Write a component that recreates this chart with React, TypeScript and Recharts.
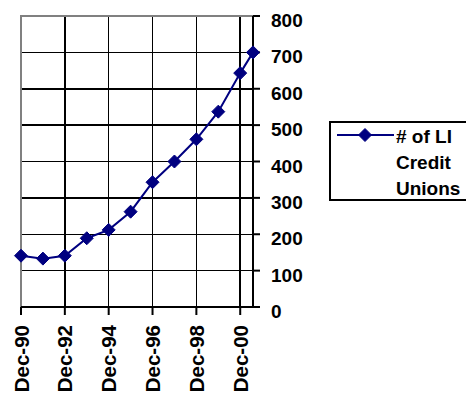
import * as React from "react";
import {
  CartesianGrid,
  Legend,
  Line,
  LineChart,
  XAxis,
  YAxis,
} from "recharts";

// month of each observation (yyyy-mm) and the count of LI credit unions
const dates = [
  "1990-12", "1991-12", "1992-12", "1993-12", "1994-12", "1995-12",
  "1996-12", "1997-12", "1998-12", "1999-12", "2000-12", "2001-07",
];
const unions = [141, 133, 141, 189, 212, 262, 343, 400, 461, 537, 643, 700];

const tickDates = ["1990-12", "1992-12", "1994-12", "1996-12", "1998-12", "2000-12"];
const tickLabels = ["Dec-90", "Dec-92", "Dec-94", "Dec-96", "Dec-98", "Dec-00"];
const yTicks = [0, 100, 200, 300, 400, 500, 600, 700, 800];
const seriesName = "# of LI Credit Unions";

const toMonths = (d: string) => {
  const [y, m] = d.split("-").map(Number);
  return y * 12 + (m - 1);
};

const NAVY = "#000080";
const FONT = "'Liberation Sans', Arial, sans-serif";

const Diamond = (props: any) => {
  const { cx, cy } = props;
  if (cx == null || cy == null) return null;
  const r = 6.5;
  return (
    <path
      d={`M${cx},${cy - r}L${cx + r},${cy}L${cx},${cy + r}L${cx - r},${cy}Z`}
      fill={NAVY}
      stroke={NAVY}
    />
  );
};

const XTick = (props: any) => {
  const { x, y, payload } = props;
  const i = tickDates.map(toMonths).indexOf(payload.value);
  return (
    <text
      transform={`translate(${x + 7.5},${y + 8}) rotate(-90)`}
      textAnchor="end"
      fontFamily={FONT}
      fontWeight="bold"
      fontSize={20.5}
      fill="#000"
    >
      {tickLabels[i] ?? ""}
    </text>
  );
};

const YTick = (props: any) => {
  const { x, y, payload } = props;
  return (
    <text
      x={x + 9}
      y={y + 11}
      textAnchor="start"
      fontFamily={FONT}
      fontWeight="bold"
      fontSize={19}
      fill="#000"
    >
      {payload.value}
    </text>
  );
};

const LegendBox = () => (
  <div
    style={{
      border: "2px solid #000",
      background: "#fff",
      width: 160,
      height: 80,
      boxSizing: "border-box",
      position: "relative",
    }}
  >
    <svg width={62} height={30} style={{ position: "absolute", left: 5, top: 0 }}>
      <line x1={1} y1={12} x2={58} y2={12} stroke={NAVY} strokeWidth={2} />
      <Diamond cx={29} cy={12} />
    </svg>
    <div
      style={{
        position: "absolute",
        left: 65,
        top: 1,
        fontFamily: FONT,
        fontWeight: "bold",
        fontSize: 19,
        lineHeight: "26px",
        color: "#000",
        whiteSpace: "pre",
      }}
    >
      {"# of LI\nCredit\nUnions"}
    </div>
  </div>
);

export default function App() {
  const data = React.useMemo(
    () => dates.map((d, i) => ({ t: toMonths(d), v: unions[i] })),
    [],
  );
  const domain = [toMonths(dates[0]), toMonths(dates[dates.length - 1])];

  return (
    <div
      style={{
        position: "fixed",
        left: 0,
        top: 0,
        width: 466,
        height: 396,
        overflow: "hidden",
        background: "#fff",
      }}
    >
      <LineChart
        width={466}
        height={396}
        data={data}
        margin={{ top: 16, left: 21, right: 0, bottom: 0 }}
      >
        <CartesianGrid stroke="#000" strokeWidth={1.5} shapeRendering="crispEdges" />
        <rect x={21} y={16} width={232} height={291} fill="none" stroke="#808080" strokeWidth={2} />
        <XAxis
          dataKey="t"
          type="number"
          domain={domain}
          ticks={tickDates.map(toMonths)}
          interval={0}
          height={89}
          stroke="#000"
          strokeWidth={2}
          tickSize={8}
          tick={<XTick />}
        />
        <YAxis
          orientation="right"
          domain={[0, 800]}
          ticks={yTicks}
          width={213}
          stroke="#000"
          strokeWidth={2}
          tickSize={7}
          tick={<YTick />}
          interval={0}
        />
        <Legend
          layout="vertical"
          align="center"
          verticalAlign="middle"
          content={() => <LegendBox />}
          wrapperStyle={{ left: 329, top: 121, width: 160, height: 80 }}
        />
        <Line
          name={seriesName}
          dataKey="v"
          stroke={NAVY}
          strokeWidth={2}
          dot={<Diamond />}
          activeDot={false}
          isAnimationActive={false}
        />
      </LineChart>
    </div>
  );
}
